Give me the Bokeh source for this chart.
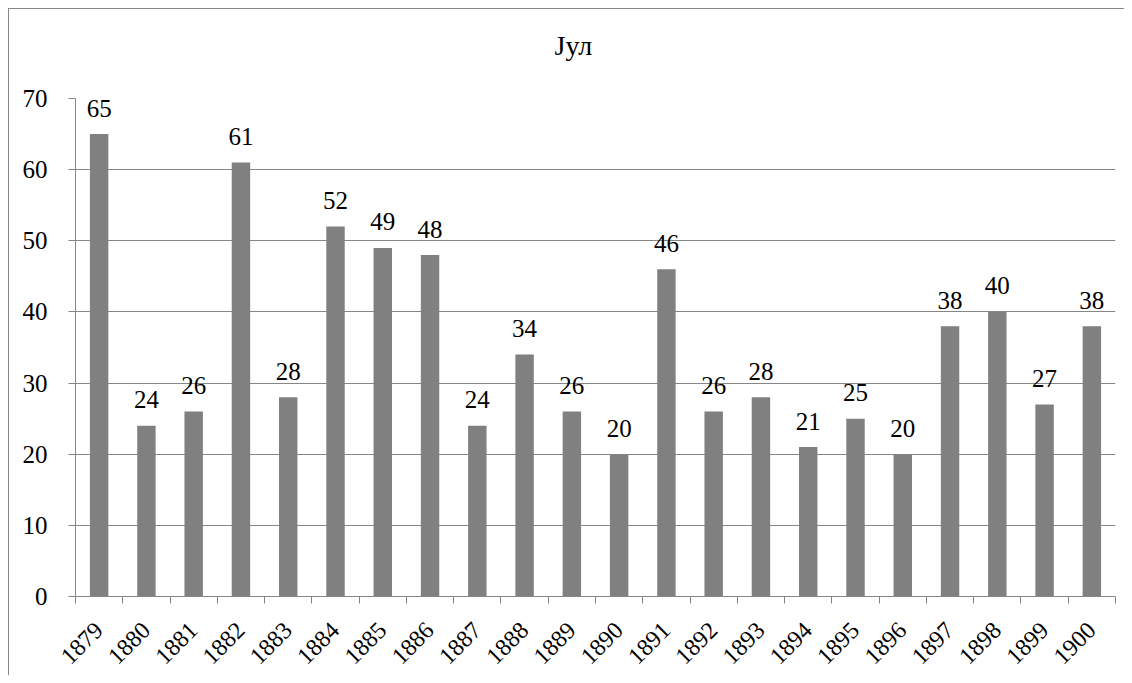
from bokeh.plotting import figure
from bokeh.models import Range1d, FixedTicker, ColumnDataSource, Title
from bokeh.core.properties import value
from bokeh.embed import file_html
from bokeh.resources import INLINE

title_text = "Јул"
years = ["1879", "1880", "1881", "1882", "1883", "1884", "1885", "1886", "1887", "1888", "1889",
         "1890", "1891", "1892", "1893", "1894", "1895", "1896", "1897", "1898", "1899", "1900"]
counts = [65, 24, 26, 61, 28, 52, 49, 48, 24, 34, 26, 20, 46, 26, 28, 21, 25, 20, 38, 40, 27, 38]
y_ticks = [0, 10, 20, 30, 40, 50, 60, 70]

FONT = "Liberation Serif"
GRAY = "#868686"

n = len(years)
xs = [i + 0.5 for i in range(n)]
src = ColumnDataSource(dict(x=xs, top=counts, lab=[str(c) for c in counts]))

p = figure(width=1116, height=667, output_backend="svg", toolbar_location=None, title=None,
           x_range=Range1d(0, n), y_range=Range1d(0, 70),
           min_border_left=66, min_border_right=10, min_border_top=89, min_border_bottom=80)
p.styles = {"margin-left": "8px", "margin-top": "8px",
            "border-left": "1px solid #868686", "border-top": "1px solid #868686"}
p.outline_line_color = None
p.background_fill_color = "white"
p.border_fill_color = "white"

# spacer (closest to the frame) and the real title above it
p.add_layout(Title(text=" ", text_font_size="10px", standoff=20), "above")
p.add_layout(Title(text=title_text, align="left", offset=479, standoff=10,
                   text_font=FONT, text_font_size="28px", text_font_style="normal",
                   text_color="black"), "above")

p.vbar(x="x", top="top", width=0.39, bottom=0, source=src, color="#808080", line_color=None)
p.text(x="x", y="top", text="lab", source=src, text_align="center", text_baseline="alphabetic",
       y_offset=-26, text_font=value(FONT), text_font_size="25px", text_color="black")

# x axis
p.xaxis.ticker = FixedTicker(ticks=xs, minor_ticks=list(range(n + 1)))
p.xaxis.major_label_overrides = {x: y for x, y in zip(xs, years)}
p.xaxis.major_tick_line_color = None
p.xaxis.major_tick_out = 7
p.xaxis.minor_tick_line_color = GRAY
p.xaxis.minor_tick_out = 7
p.xaxis.minor_tick_in = 0
p.xaxis.axis_line_color = GRAY
p.xaxis.major_label_orientation = 0.785398
p.xaxis.major_label_standoff = 23
p.xaxis.major_label_text_font = FONT
p.xaxis.major_label_text_font_size = "24px"
p.xaxis.major_label_text_color = "black"

# y axis
p.yaxis.ticker = FixedTicker(ticks=y_ticks)
p.yaxis.major_tick_line_color = GRAY
p.yaxis.major_tick_out = 7
p.yaxis.major_tick_in = 0
p.yaxis.minor_tick_line_color = None
p.yaxis.axis_line_color = GRAY
p.yaxis.major_label_standoff = 21
p.yaxis.major_label_text_font = FONT
p.yaxis.major_label_text_font_size = "25px"
p.yaxis.major_label_text_color = "black"

p.xgrid.grid_line_color = None
p.ygrid.grid_line_color = GRAY
p.ygrid.ticker = FixedTicker(ticks=y_ticks)

open("out.html", "w").write(file_html(p, INLINE))
